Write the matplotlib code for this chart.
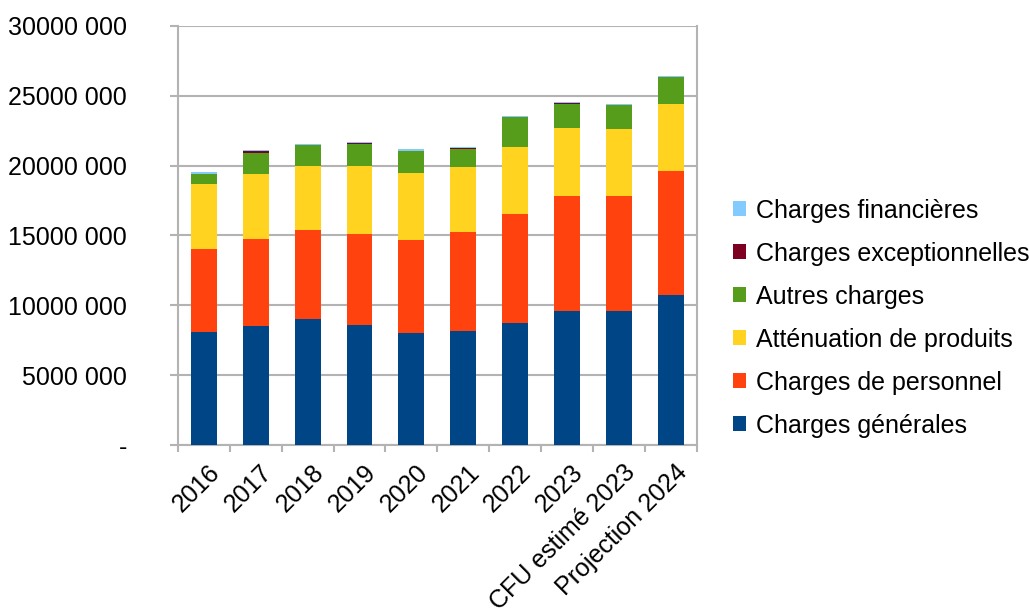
import matplotlib
matplotlib.use("Agg")
import matplotlib.pyplot as plt
from matplotlib.ticker import FuncFormatter
from matplotlib.transforms import ScaledTranslation
import numpy as np

plt.rcParams['font.family'] = ['Liberation Sans', 'DejaVu Sans']

categories = ['2016', '2017', '2018', '2019', '2020', '2021', '2022', '2023',
              'CFU estimé 2023', 'Projection 2024']

# values in euros (millions)
generales = [8.08, 8.51, 9.03, 8.61, 8.01, 8.18, 8.75, 9.57, 9.57, 10.74]
personnel = [5.95, 6.23, 6.33, 6.51, 6.66, 7.05, 7.76, 8.23, 8.23, 8.85]
attenuation = [4.62, 4.64, 4.64, 4.81, 4.76, 4.63, 4.84, 4.86, 4.80, 4.79]
autres = [0.73, 1.55, 1.45, 1.64, 1.62, 1.34, 2.10, 1.76, 1.70, 1.92]
exceptionnelles = [0.03, 0.10, 0.02, 0.03, 0.01, 0.07, 0.01, 0.02, 0.01, 0.01]
financieres = [0.14, 0.11, 0.10, 0.11, 0.10, 0.09, 0.10, 0.10, 0.11, 0.11]

series = [
    ('Charges générales', generales, '#004586'),
    ('Charges de personnel', personnel, '#ff420e'),
    ('Atténuation de produits', attenuation, '#ffd320'),
    ('Autres charges', autres, '#579d1c'),
    ('Charges exceptionnelles', exceptionnelles, '#7e0021'),
    ('Charges financières', financieres, '#83caff'),
]

fig = plt.figure(figsize=(10.29, 6.13), dpi=100)
ax = fig.add_axes([0.173, 0.274, 0.504, 0.684])

x = np.arange(len(categories))
bottom = np.zeros(len(categories))
for name, vals, col in series:
    v = np.array(vals) * 1e6
    ax.bar(x, v, 0.5, bottom=bottom, color=col, label=name, zorder=3)
    bottom += v

grid_col = '#b3b3b3'
ax.set_ylim(0, 30e6)
ax.set_xlim(-0.5, len(categories) - 0.5)
ax.set_yticks(np.arange(0, 30e6 + 1, 5e6))
ax.yaxis.grid(True, color=grid_col, linewidth=1.5, zorder=0)


def fmt(v, pos):
    if v == 0:
        return '-'
    m = int(round(v))
    return '{} {:03d}'.format(m // 1000, m % 1000)


ax.yaxis.set_major_formatter(FuncFormatter(fmt))

ax.set_xticks(x)
ax.set_xticklabels(categories, rotation=45, ha='right', rotation_mode='anchor')
ax.set_xticks(np.arange(-0.5, len(categories)), minor=True)
ax.tick_params(axis='x', which='major', length=0, pad=11, labelsize=18)
ax.tick_params(axis='x', which='minor', length=5, color=grid_col, width=1.5)
ax.tick_params(axis='y', length=5.8, color=grid_col, width=1.5, labelsize=18, pad=31)
for lab in ax.get_yticklabels():
    lab.set_horizontalalignment('right')
shift = ScaledTranslation(4 / 100, 0, fig.dpi_scale_trans)
for lab in ax.get_xticklabels():
    lab.set_transform(lab.get_transform() + shift)

ax.spines['top'].set_visible(False)
for s in ['left', 'right', 'bottom']:
    ax.spines[s].set_color(grid_col)
    ax.spines[s].set_linewidth(1.5)

h, l = ax.get_legend_handles_labels()
fig.legend(h[::-1], l[::-1], loc='center left', bbox_to_anchor=(0.69, 0.481),
           frameon=False, fontsize=18, handlelength=0.55, handleheight=0.55,
           handletextpad=0.4, labelspacing=0.76)

fig.savefig('out.png', dpi=100)
